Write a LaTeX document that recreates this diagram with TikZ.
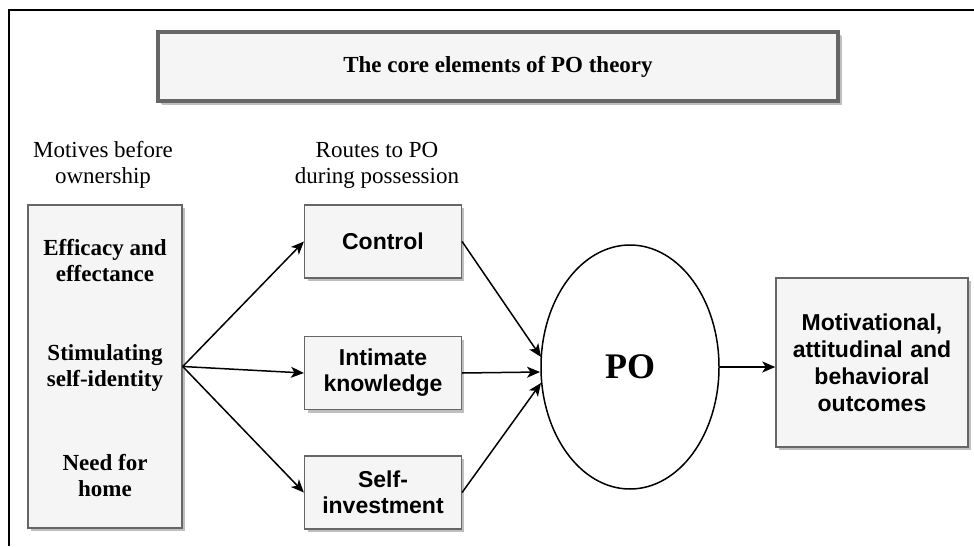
\documentclass[tikz,border=0pt]{standalone}
\usepackage{fontspec}
\setmainfont{Liberation Serif}
\setsansfont{Liberation Sans}
\usetikzlibrary{positioning,shapes.geometric,shadows,arrows.meta}
\definecolor{boxfill}{HTML}{F5F5F5}
\definecolor{boxline}{HTML}{666666}

\begin{document}
\begin{tikzpicture}[x=1pt,y=-1pt]

% definitions
\tikzstyle{block} = [rectangle, draw=boxline, fill=boxfill, line width=1.5pt, drop shadow={shadow xshift=3pt, shadow yshift=-3pt, fill=black!25, opacity=1}]

\tikzstyle{titlebox} = [block, line width=3.5pt, minimum width=680pt, minimum height=69pt, font=\fontsize{23}{27}\selectfont\bfseries, drop shadow={shadow xshift=4pt, shadow yshift=-4pt, fill=black!25, opacity=1}]

\tikzstyle{motivebox} = [block, minimum width=154pt, minimum height=323pt]

\tikzstyle{route} = [block, minimum width=154pt, minimum height=73pt, text width=150pt, text centered, font=\fontsize{23}{26}\selectfont\sffamily\bfseries]

\tikzstyle{outcome} = [block, minimum width=192pt, minimum height=169pt, text width=185pt, text centered, font=\fontsize{23}{27}\selectfont\sffamily\bfseries]

\tikzstyle{item} = [align=center, font=\fontsize{23}{26}\selectfont\bfseries]

\tikzstyle{heading} = [align=center, font=\fontsize{23}{26}\selectfont]

\tikzstyle{arrow} = [->, >={Stealth[length=13pt, width=11pt, inset=3.5pt]}, line width=1.5pt]

\useasboundingbox (0,0) rectangle (974,546);

% frame
\draw [line width=2.2pt] (974,10) -- (9,10) -- (9,546);

% the graph
\node (title) [titlebox] at (498,66.5) {The core elements of PO theory};

\node (motiveslabel) [heading] at (103,165) {Motives before\\ownership};
\node (routeslabel) [heading] at (377,165) {Routes to PO\\during possession};

\node (motives) [motivebox] at (105,366.5) {};
\node (efficacy) [item] at (105,261) {Efficacy and\\effectance};
\node (stimulating) [item] at (105,368) {Stimulating\\self-identity};
\node (needhome) [item] at (105,476) {Need for\\home};

\node (control) [route] at (383,241.5) {Control};
\node (intimate) [route, below=57pt of control] {Intimate\\knowledge};
\node (selfinv) [route, below=45pt of intimate] {Self-\\investment};

\node (po) [ellipse, draw, line width=1.5pt, minimum width=178pt, minimum height=244pt, inner sep=0pt, font=\fontsize{36}{40}\selectfont\bfseries] at (630,367) {PO};

\node (outcome) [outcome] at (872,362.5) {Motivational,\\attitudinal and\\behavioral\\outcomes};

\coordinate (poin1) at (541,357);
\coordinate (poin2) at (540,372);
\coordinate (poin3) at (541,383);

\draw [arrow] (motives.east) -- (control.west);
\draw [arrow] (motives.east) -- (intimate.west);
\draw [arrow] (motives.east) -- (selfinv.west);

\draw [arrow] (control.east) -- (poin1);
\draw [arrow] (intimate.east) -- (poin2);
\draw [arrow] (selfinv.east) -- (poin3);

\draw [arrow] (po.east) -- (po.east -| outcome.west);

\end{tikzpicture}
\end{document}
